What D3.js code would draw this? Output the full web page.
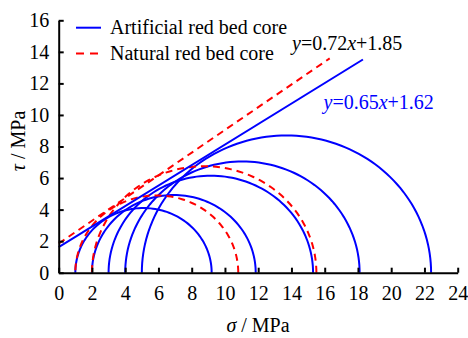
<!DOCTYPE html>
<html>
<head>
<meta charset="utf-8">
<script src="https://cdn.jsdelivr.net/npm/d3@7"></script>
</head>
<body style="margin:0">
<script>
// Chart size
const width = 468;
const height = 338;

// Mohr circles: minor and major principal stresses (MPa)
const artificialSigma3 = [1, 2, 3, 4, 5];
const artificialSigma1 = [9.2, 11.85, 15.3, 18.1, 22.4];
const naturalSigma3 = [1, 2];
const naturalSigma1 = [10.8, 15.5];

// Strength envelopes  tau = k * sigma + c
const artificialFit = { k: 0.65, c: 1.62, xEnd: 18.3 };
const naturalFit = { k: 0.72, c: 1.85, xEnd: 16.3 };

// Axis ticks
const xTicks = [0, 2, 4, 6, 8, 10, 12, 14, 16, 18, 20, 22, 24];
const yTicks = [0, 2, 4, 6, 8, 10, 12, 14, 16];

const serif = '"Liberation Serif"';
const fontSize = 20;

const svg = d3.select("body")
  .append("svg")
  .attr("width", width)
  .attr("height", height);

// Scales
const x = d3.scaleLinear().domain([0, 24]).range([58.7, 457.7]);
const y = d3.scaleLinear().domain([0, 16]).range([272.7, 20.3]);

// Build a semicircle path in data space
const arcLine = d3.line()
  .x((d) => x(d[0]))
  .y((d) => y(d[1]));

function semicircle(s3, s1) {
  const c = (s1 + s3) / 2;
  const r = (s1 - s3) / 2;
  const pts = d3.range(0, 181, 2).map((a) => {
    const t = (a * Math.PI) / 180;
    return [c + r * Math.cos(t), r * Math.sin(t)];
  });
  return arcLine(pts);
}

// Draw circles
const artificial = artificialSigma3.map((s3, i) => [s3, artificialSigma1[i]]);
const natural = naturalSigma3.map((s3, i) => [s3, naturalSigma1[i]]);

svg.append("g")
  .selectAll("path")
  .data(artificial)
  .enter()
  .append("path")
  .attr("d", (d) => semicircle(d[0], d[1]))
  .attr("fill", "none")
  .attr("stroke", "#0000ff")
  .attr("stroke-width", 2);

svg.append("g")
  .selectAll("path")
  .data(natural)
  .enter()
  .append("path")
  .attr("d", (d) => semicircle(d[0], d[1]))
  .attr("fill", "none")
  .attr("stroke", "#ff0000")
  .attr("stroke-width", 2)
  .attr("stroke-dasharray", "7,5");

// Envelope lines
function envelope(fit) {
  return arcLine([[0, fit.c], [fit.xEnd, fit.k * fit.xEnd + fit.c]]);
}

svg.append("path")
  .attr("d", envelope(artificialFit))
  .attr("fill", "none")
  .attr("stroke", "#0000ff")
  .attr("stroke-width", 2);

svg.append("path")
  .attr("d", envelope(naturalFit))
  .attr("fill", "none")
  .attr("stroke", "#ff0000")
  .attr("stroke-width", 2)
  .attr("stroke-dasharray", "7,5");

// Axes
const xAxis = d3.axisBottom(x)
  .tickValues(xTicks)
  .tickFormat(d3.format("d"))
  .tickSizeInner(-5)
  .tickSizeOuter(0)
  .tickPadding(13);

const yAxis = d3.axisLeft(y)
  .tickValues(yTicks)
  .tickFormat(d3.format("d"))
  .tickSizeInner(-5)
  .tickSizeOuter(0)
  .tickPadding(9.5);

const gx = svg.append("g")
  .attr("transform", `translate(0, ${y(0)})`)
  .call(xAxis);

const gy = svg.append("g")
  .attr("transform", `translate(${x(0)}, 0)`)
  .call(yAxis);

[gx, gy].forEach((g) => {
  g.attr("font-family", null).attr("font-size", null);
  g.select(".domain").attr("stroke", "#000").attr("stroke-width", 2);
  g.selectAll(".tick line").attr("stroke", "#000").attr("stroke-width", 2);
  g.selectAll(".tick text")
    .attr("fill", "#000")
    .attr("font-size", fontSize)
    .style("font-family", serif);
});

// Axis titles
const xTitle = svg.append("text")
  .attr("x", 258)
  .attr("y", 332)
  .attr("text-anchor", "middle")
  .attr("font-size", fontSize)
  .style("font-family", serif);
xTitle.append("tspan").attr("font-style", "italic").text("σ");
xTitle.append("tspan").text(" / MPa");

const yTitle = svg.append("text")
  .attr("transform", "translate(25, 141) rotate(-90)")
  .attr("text-anchor", "middle")
  .attr("font-size", fontSize)
  .style("font-family", serif);
yTitle.append("tspan").attr("font-style", "italic").text("τ");
yTitle.append("tspan").text(" / MPa");

// Legend
const legendItems = [
  { label: "Artificial red bed core", color: "#0000ff", dash: null, y: 27.7 },
  { label: "Natural red bed core", color: "#ff0000", dash: "8,6", y: 53.5 }
];

const legend = svg.append("g");
legendItems.forEach((item) => {
  legend.append("line")
    .attr("x1", 76)
    .attr("x2", 101)
    .attr("y1", item.y)
    .attr("y2", item.y)
    .attr("stroke", item.color)
    .attr("stroke-width", 2)
    .attr("stroke-dasharray", item.dash);
  legend.append("text")
    .attr("x", 110)
    .attr("y", item.y + 6.6)
    .attr("font-size", fontSize)
    .style("font-family", serif)
    .text(item.label);
});

// Equation labels
function equation(fit, xPos, yPos, color) {
  const t = svg.append("text")
    .attr("x", xPos)
    .attr("y", yPos)
    .attr("fill", color)
    .attr("font-size", fontSize)
    .style("font-family", serif);
  t.append("tspan").attr("font-style", "italic").text("y");
  t.append("tspan").text(`=${fit.k.toFixed(2)}`);
  t.append("tspan").attr("font-style", "italic").text("x");
  t.append("tspan").text(`+${fit.c.toFixed(2)}`);
}

equation(naturalFit, 292, 49.5, "#000");
equation(artificialFit, 323.5, 108.5, "#0000ff");
</script>
</body>
</html>
